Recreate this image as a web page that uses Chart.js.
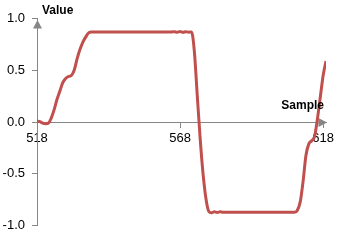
<!DOCTYPE html>
<html>
<head>
<meta charset="utf-8">
<script src="https://cdn.jsdelivr.net/npm/chart.js@4/dist/chart.umd.min.js"></script>
<style>
  html, body { margin: 0; padding: 0; background: #fff; }
</style>
</head>
<body>
<canvas id="signalChart" width="341" height="240"></canvas>
<script>
// sample index of the first value, one value per sample after that
const sampleStart = 518;
const sampleEnd = 619;
const values = [
  0.01, 0.005, -0.01, -0.015, -0.01, 0.04, 0.12, 0.22, 0.30, 0.38,
  0.42, 0.44, 0.45, 0.50, 0.61, 0.70, 0.77, 0.82, 0.86, 0.87,
  0.87, 0.87, 0.87, 0.87, 0.87, 0.87, 0.87, 0.87, 0.87, 0.87,
  0.87, 0.87, 0.87, 0.87, 0.87, 0.87, 0.87, 0.87, 0.87, 0.87,
  0.87, 0.87, 0.87, 0.87, 0.87, 0.87, 0.87, 0.87, 0.872, 0.868,
  0.874, 0.866, 0.873, 0.868,
  0.87, 0.68, 0.26, -0.15, -0.49, -0.73, -0.86, -0.875, -0.865, -0.872, -0.866,
  -0.87, -0.87, -0.87, -0.87, -0.87, -0.87, -0.87, -0.87, -0.87, -0.87,
  -0.87, -0.87, -0.87, -0.87, -0.87, -0.87, -0.87, -0.87, -0.87, -0.87,
  -0.87, -0.87, -0.87, -0.87, -0.87, -0.87,
  -0.85, -0.77, -0.57, -0.32, -0.21, -0.18, -0.14, 0.03, 0.24, 0.45, 0.59
];
const xTicks = [518, 568, 618];
const yTicks = [-1, -0.5, 0, 0.5, 1];
const xTitle = 'Sample';
const yTitle = 'Value';

const axisGray = '#868686';
const tickFont = { family: 'Liberation Sans', size: 13 };

// arrowheads on both axes, drawn under the line
const axisArrows = {
  id: 'axisArrows',
  beforeDatasetsDraw(chart) {
    const { ctx, chartArea, scales: { y } } = chart;
    const ax = chartArea.left + 0.5;
    const ay = Math.round(y.getPixelForValue(0)) + 0.5;
    ctx.save();
    ctx.fillStyle = axisGray;
    // y axis, pointing up
    const tipY = y.getPixelForValue(1) + 1.5;
    ctx.beginPath();
    ctx.moveTo(ax, tipY);
    ctx.lineTo(ax - 4.5, tipY + 8.5);
    ctx.lineTo(ax + 4.5, tipY + 8.5);
    ctx.closePath();
    ctx.fill();
    // x axis, pointing right
    const tipX = chartArea.right + 1;
    ctx.beginPath();
    ctx.moveTo(tipX, ay);
    ctx.lineTo(tipX - 8.5, ay - 4.5);
    ctx.lineTo(tipX - 8.5, ay + 4.5);
    ctx.closePath();
    ctx.fill();
    ctx.restore();
  },
  afterDraw(chart) {
    const { ctx, chartArea, scales: { y } } = chart;
    ctx.save();
    ctx.fillStyle = '#000';
    ctx.font = 'bold 12px "Liberation Sans"';
    ctx.textBaseline = 'middle';
    ctx.textAlign = 'left';
    ctx.fillText(yTitle, chartArea.left + 5, chartArea.top - 7.5);
    ctx.textAlign = 'right';
    ctx.fillText(xTitle, chartArea.right - 2, y.getPixelForValue(0) - 16.5);
    ctx.restore();
  }
};

const points = values.map((v, i) => ({ x: sampleStart + i, y: v }));

new Chart(document.getElementById('signalChart'), {
  type: 'line',
  data: {
    datasets: [{
      data: points,
      borderColor: '#C0504D',
      borderWidth: 3,
      pointRadius: 0,
      cubicInterpolationMode: 'monotone',
      fill: false
    }]
  },
  options: {
    responsive: false,
    animation: false,
    layout: { padding: { top: 18.5, right: 15, bottom: 14.3, left: 0 } },
    plugins: { legend: { display: false }, tooltip: { enabled: false } },
    scales: {
      x: {
        type: 'linear',
        min: sampleStart,
        max: sampleEnd,
        position: { y: 0 },
        afterBuildTicks: s => { s.ticks = xTicks.map(v => ({ value: v })); },
        afterFit: s => { s.height = 0; s.paddingLeft = 0; s.paddingRight = 0; },
        grid: { drawOnChartArea: false, tickLength: 5, color: axisGray },
        border: { color: axisGray, width: 1 },
        ticks: { color: '#000', font: tickFont, padding: 4, maxRotation: 0, autoSkip: false }
      },
      y: {
        min: -1,
        max: 1,
        afterBuildTicks: s => { s.ticks = yTicks.map(v => ({ value: v })); },
        afterFit: s => { s.width = 37; s.paddingTop = 0; s.paddingBottom = 0; },
        grid: { drawOnChartArea: false, tickLength: 5, color: axisGray },
        border: { color: axisGray, width: 1 },
        ticks: { color: '#000', font: tickFont, padding: 7, callback: v => v.toFixed(1) }
      }
    }
  },
  plugins: [axisArrows]
});
</script>
</body>
</html>
